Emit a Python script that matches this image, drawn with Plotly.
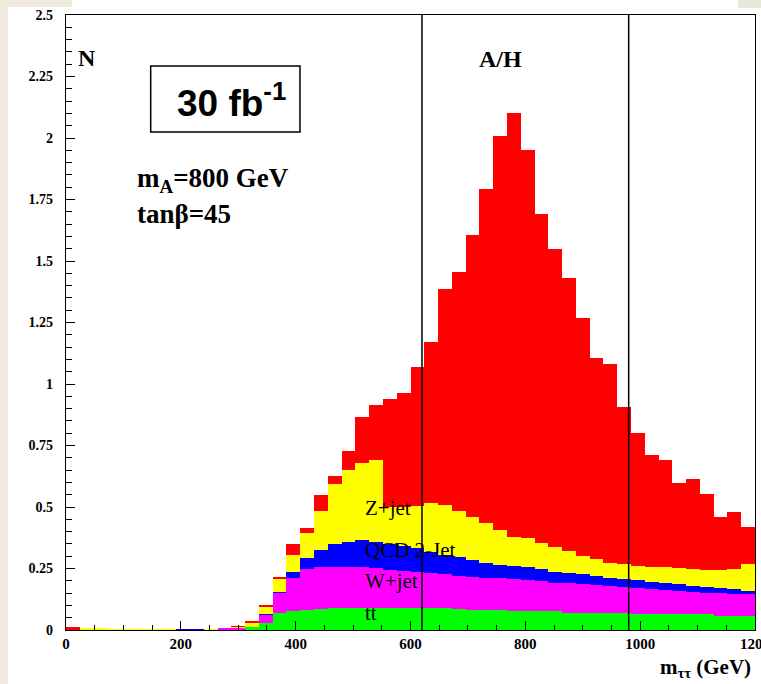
import plotly.graph_objects as go

# ---- data (cumulative stack tops), 50 bins of 24 GeV ----
bin_width = 24
bin_lo = list(range(0, 1200, 24))

tt_top = [0, 0, 0, 0, 0, 0, 0, 0, 0, 0,
          0, 0, 0, 0.012, 0.030, 0.068, 0.077, 0.083, 0.085, 0.089,
          0.090, 0.091, 0.091, 0.091, 0.091, 0.091, 0.090, 0.088, 0.084, 0.082,
          0.081, 0.080, 0.079, 0.076, 0.076, 0.076, 0.068, 0.068, 0.068, 0.068,
          0.068, 0.064, 0.064, 0.064, 0.064, 0.064, 0.064, 0.057, 0.057, 0.057]
w_top = [0, 0, 0, 0, 0, 0, 0, 0, 0, 0,
         0, 0.008, 0.006, 0.014, 0.063, 0.149, 0.212, 0.247, 0.255, 0.257,
         0.257, 0.255, 0.251, 0.245, 0.240, 0.234, 0.230, 0.226, 0.220, 0.217,
         0.213, 0.210, 0.206, 0.203, 0.199, 0.192, 0.190, 0.187, 0.183, 0.179,
         0.176, 0.172, 0.167, 0.163, 0.160, 0.156, 0.152, 0.149, 0.146, 0.146]
qcd_top = [0, 0, 0, 0, 0, 0, 0, 0, 0.004, 0.004,
           0, 0.008, 0.006, 0.014, 0.065, 0.153, 0.235, 0.293, 0.324, 0.350,
           0.359, 0.365, 0.359, 0.350, 0.341, 0.332, 0.318, 0.305, 0.295, 0.285,
           0.274, 0.264, 0.260, 0.255, 0.248, 0.234, 0.230, 0.226, 0.219, 0.213,
           0.207, 0.203, 0.196, 0.190, 0.186, 0.179, 0.176, 0.169, 0.165, 0.159]
z_top = [0, 0.006, 0.006, 0.002, 0.002, 0.002, 0.002, 0.002, 0.004, 0.004,
         0.004, 0.008, 0.013, 0.030, 0.094, 0.206, 0.305, 0.396, 0.482, 0.592,
         0.650, 0.678, 0.690, 0.502, 0.500, 0.505, 0.517, 0.508, 0.485, 0.460,
         0.434, 0.407, 0.380, 0.372, 0.355, 0.339, 0.321, 0.301, 0.287, 0.274,
         0.267, 0.260, 0.257, 0.255, 0.251, 0.247, 0.244, 0.244, 0.248, 0.267]
total_top = [0.012, 0.006, 0.006, 0.002, 0.002, 0.002, 0.002, 0.002, 0.004, 0.004,
             0.004, 0.008, 0.016, 0.038, 0.102, 0.217, 0.350, 0.416, 0.549, 0.626,
             0.729, 0.867, 0.915, 0.939, 0.965, 1.068, 1.170, 1.388, 1.457, 1.604,
             1.791, 2.008, 2.103, 1.950, 1.690, 1.550, 1.430, 1.267, 1.107, 1.080,
             0.908, 0.800, 0.711, 0.690, 0.596, 0.612, 0.552, 0.460, 0.478, 0.420]

window_edges = [620, 980]
y_ticks = [0, 0.25, 0.5, 0.75, 1, 1.25, 1.5, 1.75, 2, 2.25, 2.5]
y_tick_text = ["0", "0.25", "0.5", "0.75", "1", "1.25", "1.5", "1.75", "2", "2.25", "2.5"]
x_ticks = [0, 200, 400, 600, 800, 1000, 1200]
x_tick_text = ["0", "200", "400", "600", "800", "1000", "1200"]

centers = [lo + bin_width / 2 for lo in bin_lo]

layers = [
    ("A/H signal", total_top, "#ff0000"),
    ("Z+jet", z_top, "#ffff00"),
    ("QCD 2-Jet", qcd_top, "#0000ff"),
    ("W+jet", w_top, "#ff00ff"),
    ("tt", tt_top, "#00ff00"),
]

fig = go.Figure()
for name, vals, col in layers:
    fig.add_trace(go.Bar(x=centers, y=vals, width=bin_width, name=name,
                         marker=dict(color=col, line=dict(width=0)),
                         showlegend=False))

SERIF = "Liberation Serif"
fig.update_layout(
    width=761, height=684,
    margin=dict(l=66, r=6, t=15, b=54, autoexpand=False),
    paper_bgcolor="white", plot_bgcolor="white",
    barmode="overlay", bargap=0,
    xaxis=dict(range=[0, 1200], showgrid=False, zeroline=False, automargin=False,
               showline=True, linecolor="black", linewidth=1.2, mirror=True,
               tickmode="array", tickvals=x_ticks, ticktext=x_tick_text,
               ticks="inside", ticklen=9, tickwidth=1.2, tickcolor="black",
               ticklabeloverflow="allow",
               minor=dict(tickmode="linear", tick0=0, dtick=50, ticks="inside",
                          ticklen=5, tickwidth=1.2, tickcolor="black"),
               tickfont=dict(family=SERIF, size=15, color="black", weight="bold")),
    yaxis=dict(range=[0, 2.5], showgrid=False, zeroline=False, automargin=False,
               showline=True, linecolor="black", linewidth=1.2, mirror=True,
               tickmode="array", tickvals=y_ticks, ticktext=y_tick_text,
               ticks="inside", ticklen=9, tickwidth=1.2, tickcolor="black",
               minor=dict(tickmode="linear", tick0=0, dtick=0.05, ticks="inside",
                          ticklen=6, tickwidth=1.2, tickcolor="black"),
               ticklabelstandoff=9,
               tickfont=dict(family=SERIF, size=14, color="black", weight="bold")),
)

# mass window lines
for xe in window_edges:
    fig.add_shape(type="line", x0=xe, x1=xe, y0=0, y1=2.5, xref="x", yref="y",
                  line=dict(color="black", width=1.5), layer="above")

# luminosity box
fig.add_shape(type="rect", x0=147.5, x1=407.5, y0=2.024, y1=2.293, xref="x", yref="y",
              line=dict(color="black", width=1.5), fillcolor="white", layer="above")

# slide background remnants
fig.add_shape(type="rect", xref="paper", yref="paper", x0=-0.0958, x1=-0.0842,
              y0=-0.09, y1=1.03, line=dict(width=0), fillcolor="#efe9de")
fig.add_shape(type="rect", xref="paper", yref="paper", x0=-0.0958, x1=0.0087,
              y0=1.0130, y1=1.03, line=dict(width=0), fillcolor="#efe9de")
fig.add_shape(type="rect", xref="paper", yref="paper", x0=0.9753, x1=1.01,
              y0=1.0114, y1=1.03, line=dict(width=0), fillcolor="#e3ead8")

def ann(text, x, y, size, family=SERIF, xanchor="center", yanchor="middle",
        xref="x", yref="y"):
    fig.add_annotation(text=text, x=x, y=y, xref=xref, yref=yref, showarrow=False,
                       xanchor=xanchor, yanchor=yanchor,
                       font=dict(family=family, size=size, color="black"))

ann("<b>N</b>", 36.6, 2.327, 24)
ann("<b>A/H</b>", 756.7, 2.323, 24)
ann("<b>30 fb<sup>-1</sup></b>", 288, 2.154, 37, family="Liberation Sans")
ann("<b>m<sub>A</sub>=800 GeV</b>", 120, 1.83, 27, xanchor="left")
ann("<b>tanβ=45</b>", 120, 1.691, 27, xanchor="left")
ann("Z+jet", 516.7, 0.496, 21, xanchor="left")
ann("QCD 2-Jet", 516.7, 0.325, 21, xanchor="left")
ann("W+jet", 516.7, 0.199, 21, xanchor="left")
ann("tt", 516.7, 0.068, 21, xanchor="left")
ann("<b>m<sub>ττ</sub> (GeV)</b>", 0.997, -0.062, 21, xanchor="right",
    xref="paper", yref="paper")

fig.write_html("out.html")
